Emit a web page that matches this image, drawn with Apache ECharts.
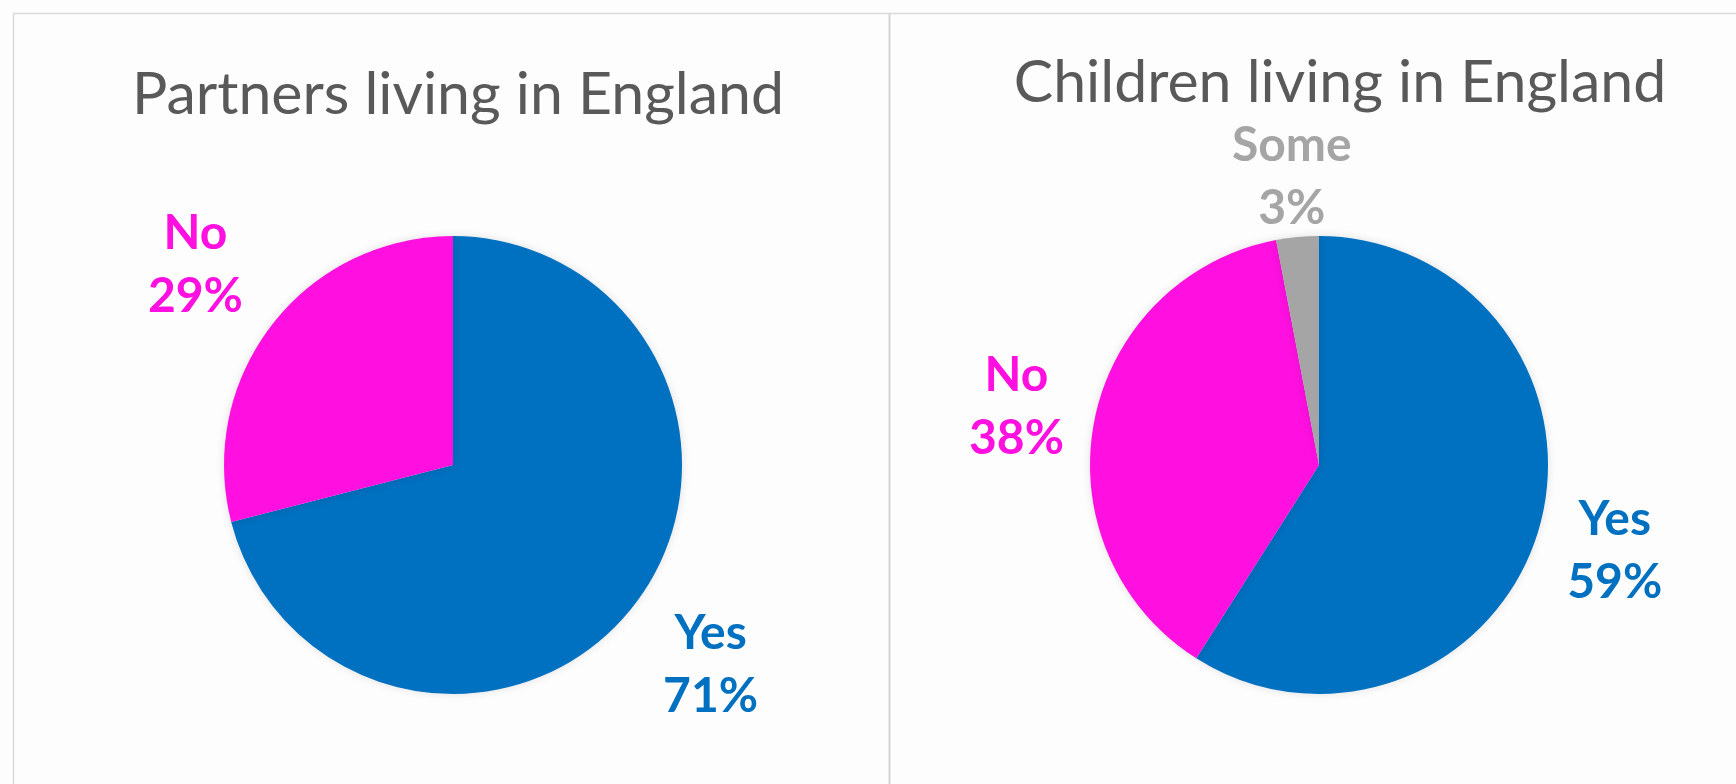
<!DOCTYPE html>
<html>
<head>
<meta charset="utf-8">
<script src="https://cdn.jsdelivr.net/npm/echarts@6/dist/echarts.min.js"></script>
<style>
html,body{margin:0;padding:0;background:#fdfdfd;}
#c{width:1736px;height:784px;}
</style>
</head>
<body>
<div id="c"></div>
<script>
// ---- data ----
const partnersTitle = 'Partners living in England';
const partnersCategories = ['Yes', 'No'];
const partnersValues = [71, 29];

const childrenTitle = 'Children living in England';
const childrenCategories = ['Yes', 'No', 'Some'];
const childrenValues = [59, 38, 3];

// ---- styles ----
const colorMap = { 'Yes': '#0070C0', 'No': '#FF10E0', 'Some': '#A5A5A5' };

// ---- build ----
function toData(cats, vals) {
  return cats.map((c, i) => ({ name: c, value: vals[i], itemStyle: { color: colorMap[c] } }));
}
function labelData(cats, vals, showCats) {
  return cats.map((c, i) => ({
    name: c, value: vals[i],
    label: { show: showCats.indexOf(c) >= 0, color: colorMap[c] }
  }));
}

const R = 229;
function basePie(cats, vals, center) {
  return {
    type: 'pie',
    center: center,
    radius: [0, R],
    startAngle: 90,
    clockwise: true,
    avoidLabelOverlap: false,
    silent: true,
    label: { show: false },
    labelLine: { show: false },
    itemStyle: { borderWidth: 0, shadowBlur: 8, shadowColor: 'rgba(0,0,0,0.12)' },
    emphasis: { disabled: true },
    data: toData(cats, vals)
  };
}
function labelPie(cats, vals, center, labelMid, showCats) {
  return {
    type: 'pie',
    center: center,
    radius: [R, 2 * labelMid - R],
    startAngle: 90,
    clockwise: true,
    avoidLabelOverlap: false,
    silent: true,
    itemStyle: { color: 'rgba(0,0,0,0)', borderWidth: 0 },
    label: {
      show: true,
      position: 'inside',
      formatter: '{b}\n{c}%',
      fontFamily: 'Lato',
      fontWeight: 'bold',
      fontSize: 48,
      lineHeight: 63,
      align: 'center'
    },
    labelLine: { show: false },
    emphasis: { disabled: true },
    data: labelData(cats, vals, showCats)
  };
}

const chart = echarts.init(document.getElementById('c'), null, { renderer: 'canvas' });
chart.setOption({
  backgroundColor: '#fdfdfd',
  animation: false,
  title: [
    { text: partnersTitle, left: 453, top: 60, textAlign: 'center',
      textStyle: { fontFamily: 'Lato', fontWeight: 'normal', fontSize: 59, color: '#595959' } },
    { text: childrenTitle, left: 1335, top: 48, textAlign: 'center',
      textStyle: { fontFamily: 'Lato', fontWeight: 'normal', fontSize: 59, color: '#595959' } }
  ],
  graphic: [
    { type: 'line', shape: { x1: 13, y1: 13.5, x2: 1736, y2: 13.5 }, style: { stroke: '#d9d9d9', lineWidth: 1.5 }, silent: true },
    { type: 'line', shape: { x1: 13.5, y1: 13, x2: 13.5, y2: 784 }, style: { stroke: '#d9d9d9', lineWidth: 1.5 }, silent: true },
    { type: 'line', shape: { x1: 889.5, y1: 13, x2: 889.5, y2: 784 }, style: { stroke: '#d4d4d4', lineWidth: 2 }, silent: true }
  ],
  series: [
    basePie(partnersCategories, partnersValues, [453, 465]),
    labelPie(partnersCategories, partnersValues, [453, 465], 323, ['Yes', 'No']),
    basePie(childrenCategories, childrenValues, [1319, 465]),
    labelPie(childrenCategories, childrenValues, [1319, 465], 305, ['Yes', 'No']),
    labelPie(childrenCategories, childrenValues, [1319, 465], 286, ['Some'])
  ]
});
</script>
</body>
</html>
